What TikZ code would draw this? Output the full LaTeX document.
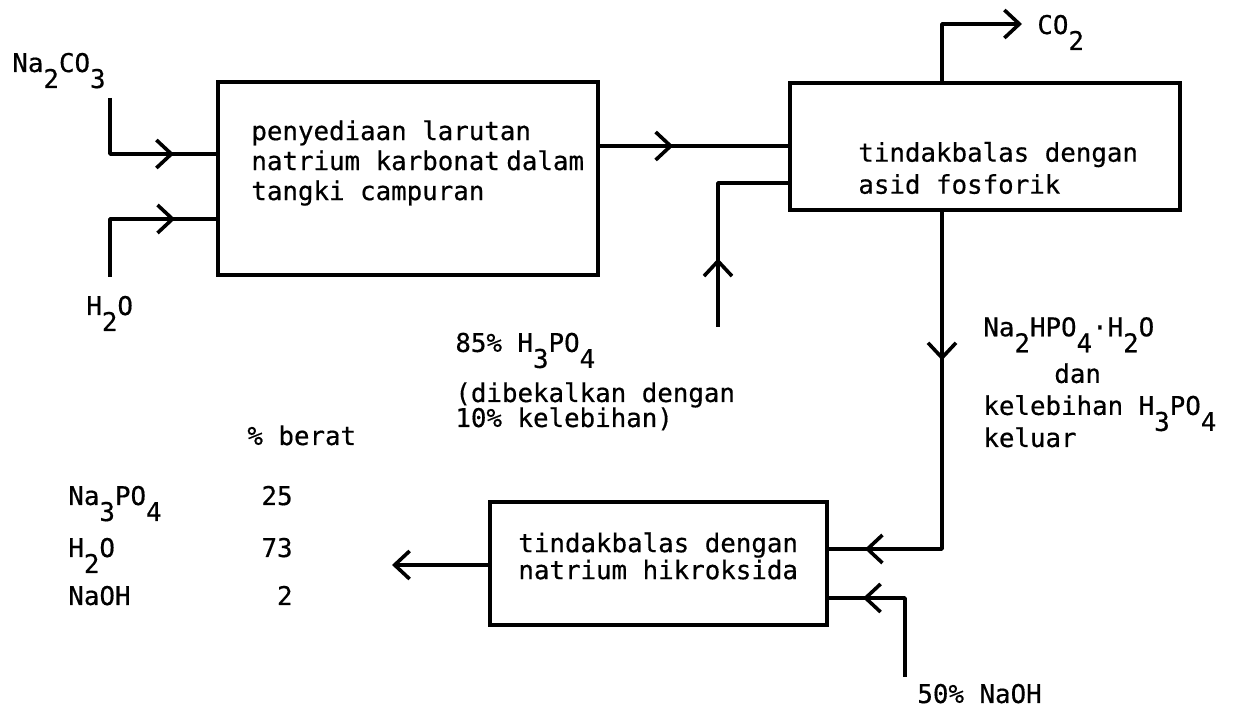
\documentclass[tikz,border=0pt]{standalone}
\usepackage{fontspec}
\setmonofont{DejaVu Sans Mono}[FakeBold=0.5]
\usetikzlibrary{arrows.meta,decorations.markings}
\newcommand{\sub}[1]{\raisebox{-0.62em}{#1}}

\tikzset{
  pipe/.style={line width=1.8pt, line join=round},
  unit/.style={draw, line width=1.8pt, inner sep=0pt},
  txt/.style={font=\ttfamily\fontsize{12.9}{15}\selectfont, inner sep=0pt, align=left},
  barb/.tip={Straight Barb[length=7.5pt,width=14pt]},
  flowat/.style={postaction={decorate, decoration={markings,
    mark=at position #1 with {\arrow{barb}}}}},
}

\begin{document}
\begin{tikzpicture}[x=0.5pt, y=-0.5pt]
  \useasboundingbox (0,0) rectangle (1239,710);

  % Process units
  \node[unit, minimum width=190pt, minimum height=96.5pt] (tank) at (408,178.5) {};
  \node[unit, minimum width=195pt, minimum height=63.5pt] (acid) at (985,146.5) {};
  \node[unit, minimum width=168.5pt, minimum height=61.5pt] (caustic) at (658.5,563.5) {};

  \node[txt, anchor=west] (tank-txt) at (251,163) {penyediaan larutan\\natrium karbonat\hspace{0.25em}dalam\\tangki campuran};
  \node[txt, anchor=west] (acid-txt) at (858,168) {tindakbalas dengan\\[1pt]asid fosforik};
  \node[txt, anchor=west] (caustic-txt) at (518,556) {tindakbalas dengan\\[-1.5pt]natrium hikroksida};

  % Feed and product labels
  \node[txt, anchor=base west] (na2co3) at (12,72) {Na\sub{2}CO\sub{3}};
  \node[txt, anchor=base west] (water) at (86,315) {H\sub{2}O};
  \node[txt, anchor=base west] (co2) at (1037,34) {CO\sub{2}};
  \node[txt, anchor=base west] (h3po4) at (455,427)
    {85\% H\sub{3}PO\sub{4}\\[6pt](dibekalkan dengan\\[-2.5pt]10\% kelebihan)};
  \node[txt, anchor=base west] (slurry) at (983,447)
    {Na\sub{2}HPO\sub{4}·H\sub{2}O\\[4.5pt]\hspace*{2.75em}dan\\[1pt]kelebihan H\sub{3}PO\sub{4}\\[-3pt]keluar};
  \node[txt, anchor=base west] (naoh) at (917,703) {50\% NaOH};

  % Product composition
  \node[txt, anchor=base west] (hdr) at (247,445) {\% berat};
  \node[txt, anchor=base west] (row1) at (68,505) {Na\sub{3}PO\sub{4}};
  \node[txt, anchor=base west] (row2) at (68,557) {H\sub{2}O};
  \node[txt, anchor=base west] (row3) at (68,605) {NaOH};
  \node[txt, anchor=base east] (val1) at (293,505) {25};
  \node[txt, anchor=base east] (val2) at (293,557) {73};
  \node[txt, anchor=base east] (val3) at (293,605) {2};

  % Free ends of the streams
  \coordinate (na2co3-in) at (110,98);
  \coordinate (water-in) at (110,277);
  \coordinate (h3po4-in) at (718,327);
  \coordinate (co2-out) at (1022,24);
  \coordinate (naoh-in) at (905,677);
  \coordinate (product) at (392,565);

  % Streams
  \draw[pipe, flowat=0.74] (na2co3-in) |- (tank.west |- 0,154);
  \draw[pipe, flowat=0.75] (water-in) |- (tank.west |- 0,219);
  \draw[pipe, flowat=0.39] (tank.east |- 0,146) -- (acid.west |- 0,146);
  \draw[pipe, flowat=0.32] (h3po4-in) |- (acid.west |- 0,183);
  \draw[pipe, -barb] (acid.north -| 942,0) |- (co2-out);
  \draw[pipe, flowat=0.33, flowat=0.92] (acid.south -| 942,0) |- (caustic.east |- 0,549);
  \draw[pipe, flowat=0.78] (naoh-in) |- (caustic.east |- 0,598);
  \draw[pipe, -barb] (caustic.west |- 0,565) -- (product);

\end{tikzpicture}
\end{document}
